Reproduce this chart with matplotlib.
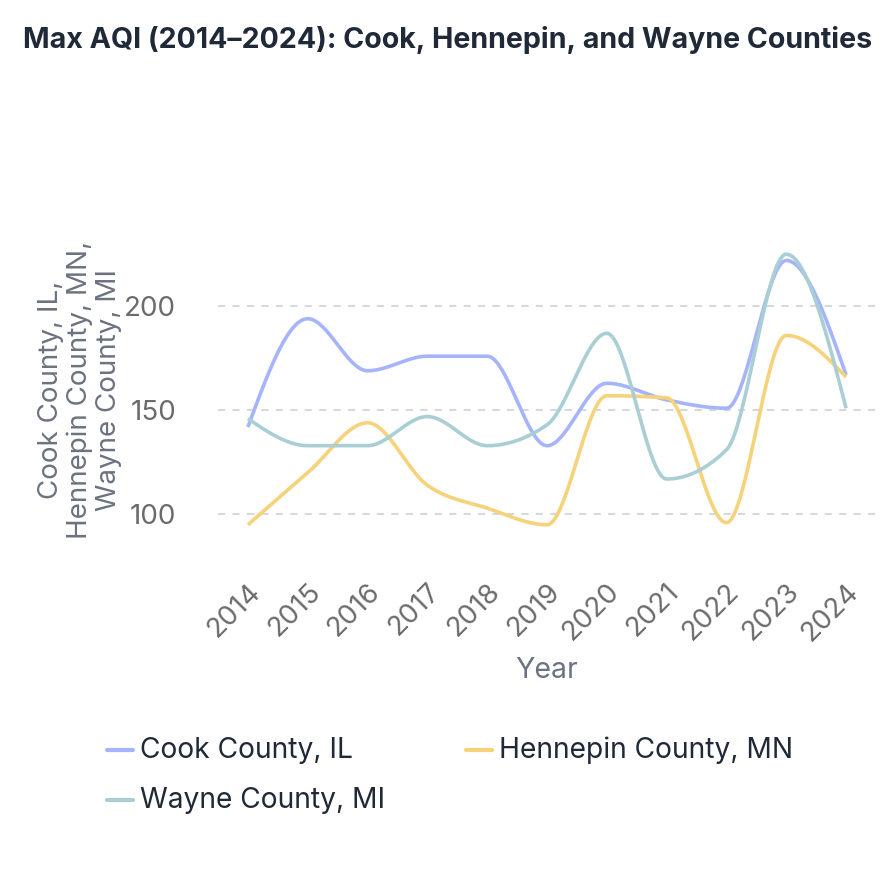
import numpy as np
import matplotlib
matplotlib.use("Agg")
import matplotlib.pyplot as plt
from matplotlib.lines import Line2D

plt.rcParams['font.family'] = ['Inter', 'DejaVu Sans']

years = [2014, 2015, 2016, 2017, 2018, 2019, 2020, 2021, 2022, 2023, 2024]
cook = [142, 194, 169, 176, 176, 133, 163, 155, 151, 222, 167]
hennepin = [95, 120, 144, 114, 103, 95, 157, 156, 96, 186, 166]
wayne = [146, 133, 133, 147, 133, 143, 187, 117, 131, 225, 151]

series_names = ["Cook County, IL", "Hennepin County, MN", "Wayne County, MI"]
colors = ["#a5b4fc", "#f6d27b", "#a9cfd4"]


def monotone(x, y, n=40):
    # same as d3 curveMonotoneX
    x = np.asarray(x, float)
    y = np.asarray(y, float)
    h = np.diff(x)
    s = np.diff(y) / h
    t = np.zeros(len(x))
    for i in range(1, len(x) - 1):
        p = (s[i - 1] * h[i] + s[i] * h[i - 1]) / (h[i - 1] + h[i])
        t[i] = (np.sign(s[i - 1]) + np.sign(s[i])) * min(abs(s[i - 1]), abs(s[i]), 0.5 * abs(p))
    t[0] = (3 * s[0] - t[1]) / 2
    t[-1] = (3 * s[-1] - t[-2]) / 2
    xs, ys = [], []
    for i in range(len(x) - 1):
        u = np.linspace(0, 1, n)
        h00 = 2 * u**3 - 3 * u**2 + 1
        h10 = u**3 - 2 * u**2 + u
        h01 = -2 * u**3 + 3 * u**2
        h11 = u**3 - u**2
        xs.append(x[i] + u * h[i])
        ys.append(h00 * y[i] + h10 * h[i] * t[i] + h01 * y[i + 1] + h11 * h[i] * t[i + 1])
    return np.concatenate(xs), np.concatenate(ys)


W, H = 896, 880
fig = plt.figure(figsize=(W / 100, H / 100), dpi=100)

# plot area in pixels
left, right, top, bottom = 218, 876, 223, 556
ax = fig.add_axes([left / W, 1 - bottom / H, (right - left) / W, (bottom - top) / H])

for vals, c in zip([cook, hennepin, wayne], colors):
    xs, ys = monotone(years, vals)
    ax.plot(xs, ys, color=c, lw=2.6, solid_capstyle='butt')

ax.set_xlim(2013.5, 2024.5)
ax.set_ylim(80, 240)
ax.set_yticks([100, 150, 200])
ax.set_xticks(years)
ax.set_xticklabels([str(y) for y in years], rotation=45, ha='right', rotation_mode='anchor')
ax.grid(axis='y', color='#d1d5db', lw=1.3, linestyle=(0, (4, 4)))
ax.set_axisbelow(True)
for sp in ax.spines.values():
    sp.set_visible(False)
ax.tick_params(axis='both', length=0, labelsize=20, labelcolor='#6b6b6b')
ax.tick_params(axis='x', pad=16)
ax.tick_params(axis='y', pad=30)

fig.text(547 / W, 1 - 670 / H, "Year", ha='center', va='center', fontsize=20.5, color='#6b7280')
fig.text(80 / W, 1 - 390 / H, "Cook County, IL,\nHennepin County, MN,\nWayne County, MI",
         ha='center', va='center', rotation=90, fontsize=20, color='#6b7280', linespacing=1.15)

fig.text(448 / W, 1 - 40 / H, "Max AQI (2014\u20132024): Cook, Hennepin, and Wayne Counties",
         ha='center', va='center', fontsize=20.6, fontweight='bold', color='#1f2937')

# legend
legend_pos = [(107, 750), (466, 750), (107, 800)]
for (lx, ly), name, c in zip(legend_pos, series_names, colors):
    fig.add_artist(Line2D([lx / W, (lx + 26) / W], [1 - ly / H, 1 - ly / H],
                          color=c, lw=3, solid_capstyle='round', transform=fig.transFigure))
    fig.text((lx + 33) / W, 1 - ly / H, name, ha='left', va='center', fontsize=20.3, color='#1f2937')

fig.savefig("out.png", dpi=100)
